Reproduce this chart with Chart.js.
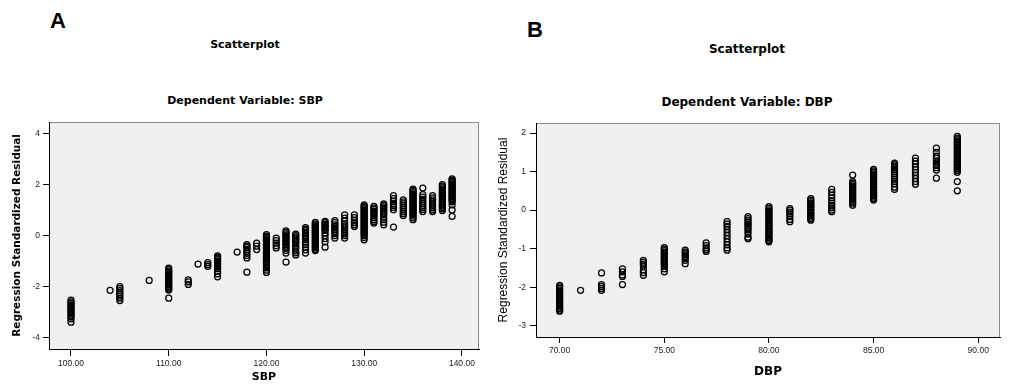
<!DOCTYPE html>
<html>
<head>
<meta charset="utf-8">
<script src="https://cdn.jsdelivr.net/npm/chart.js@4"></script>
<style>
  body { margin: 0; background: #fff; }
  #wrap { position: relative; width: 1010px; height: 390px; background: #fff; overflow: hidden; }
  .txt { position: absolute; transform: translate(-50%, -50%); white-space: nowrap; color: #000; }
  canvas { position: absolute; top: 0; }
</style>
</head>
<body>
<div id="wrap">
  <div class="txt" style="left:58px;top:21px;font:bold 22px 'Liberation Sans'">A</div>
  <div class="txt" style="left:245px;top:44px;font:bold 11px 'DejaVu Sans'">Scatterplot</div>
  <div class="txt" style="left:245px;top:100px;font:bold 11px 'DejaVu Sans'">Dependent Variable: SBP</div>
  <div class="txt" style="left:535px;top:30px;font:bold 22px 'Liberation Sans'">B</div>
  <div class="txt" style="left:747px;top:49px;font:bold 12px 'DejaVu Sans'">Scatterplot</div>
  <div class="txt" style="left:747px;top:102px;font:bold 12px 'DejaVu Sans'">Dependent Variable: DBP</div>
  <canvas id="chartA" width="490" height="390" style="left:0"></canvas>
  <canvas id="chartB" width="520" height="390" style="left:490px"></canvas>
</div>
<script>
// panel A: SBP vs standardized residual
const sbpValues = [100, 104, 105, 108, 110, 112, 113, 114, 115, 117, 118, 119, 120, 121, 122, 123, 124, 125, 126, 127, 128, 129, 130, 131, 132, 133, 134, 135, 136, 137, 138, 139];
const sbpResiduals = [
  [-2.53, -2.6, -2.66, -2.72, -2.78, -2.84, -2.9, -2.96, -3.02, -3.08, -3.14, -3.2, -3.27, -3.4],
  [-2.15],
  [-2.0, -2.08, -2.16, -2.24, -2.3, -2.38, -2.46, -2.55],
  [-1.76],
  [-1.28, -1.34, -1.4, -1.45, -1.5, -1.55, -1.6, -1.65, -1.7, -1.75, -1.8, -1.85, -1.9, -1.95, -2.0, -2.05, -2.1, -2.14, -2.46],
  [-1.74, -1.82, -1.92],
  [-1.12],
  [-1.06, -1.14, -1.21],
  [-0.8, -0.85, -0.9, -0.95, -1.0, -1.05, -1.1, -1.15, -1.22, -1.3, -1.4, -1.5, -1.62],
  [-0.65],
  [-0.36, -0.42, -0.48, -0.55, -0.62, -0.7, -0.78, -0.88, -1.44],
  [-0.3, -0.42, -0.55],
  [0.03, -0.02, -0.07, -0.12, -0.17, -0.22, -0.27, -0.32, -0.37, -0.42, -0.47, -0.52, -0.57, -0.62, -0.67, -0.72, -0.77, -0.82, -0.87, -0.92, -0.97, -1.02, -1.07, -1.12, -1.18, -1.27, -1.36, -1.45],
  [-0.1, -0.2, -0.3, -0.4, -0.49],
  [0.18, 0.12, 0.06, 0, -0.06, -0.12, -0.18, -0.24, -0.3, -0.36, -0.42, -0.5, -0.58, -0.69, -1.04],
  [0.05, 0, -0.06, -0.12, -0.18, -0.25, -0.33, -0.42, -0.5, -0.6, -0.68, -0.76],
  [0.31, 0.25, 0.19, 0.13, 0.07, 0, -0.08, -0.16, -0.26, -0.36, -0.46, -0.56, -0.69],
  [0.51, 0.46, 0.41, 0.36, 0.31, 0.26, 0.21, 0.16, 0.11, 0.06, 0.01, -0.04, -0.09, -0.14, -0.19, -0.24, -0.29, -0.34, -0.39, -0.44, -0.49, -0.54, -0.59],
  [0.55, 0.5, 0.45, 0.4, 0.35, 0.3, 0.25, 0.2, 0.1, 0, -0.12, -0.25, -0.46],
  [0.58, 0.5, 0.42, 0.36, 0.3, 0.24, 0.16, 0.08, 0, -0.1],
  [0.81, 0.68, 0.56, 0.46, 0.38, 0.3, 0.22, 0.14, 0.06, 0, -0.1],
  [0.81, 0.7, 0.6, 0.5, 0.42, 0.35],
  [1.2, 1.15, 1.1, 1.05, 1.0, 0.95, 0.9, 0.85, 0.8, 0.75, 0.7, 0.65, 0.6, 0.55, 0.5, 0.45, 0.4, 0.35, 0.3, 0.25, 0.2, 0.15, 0.1, 0.05, 0, -0.08, -0.17],
  [1.14, 1.08, 1.02, 0.96, 0.9, 0.84, 0.78, 0.7, 0.62, 0.55, 0.49],
  [1.24, 1.18, 1.12, 1.06, 1.0, 0.94, 0.88, 0.82, 0.72, 0.62, 0.52, 0.42],
  [1.56, 1.45, 1.35, 1.25, 1.18, 1.1, 1.01, 0.33],
  [1.4, 1.32, 1.25, 1.18, 1.1, 1.02, 0.94, 0.86, 0.78],
  [1.82, 1.77, 1.72, 1.67, 1.62, 1.57, 1.52, 1.47, 1.42, 1.37, 1.32, 1.27, 1.22, 1.17, 1.12, 1.07, 1.02, 0.97, 0.92, 0.87, 0.82, 0.76, 0.69, 0.62],
  [1.86, 1.6, 1.5, 1.42, 1.34, 1.26, 1.18, 1.1, 1.02, 0.94],
  [1.56, 1.48, 1.4, 1.32, 1.24, 1.16, 1.08, 1.0, 0.94],
  [1.99, 1.94, 1.88, 1.82, 1.76, 1.7, 1.64, 1.58, 1.52, 1.46, 1.4, 1.34, 1.28, 1.22, 1.16, 1.1, 1.04, 0.98],
  [2.22, 2.17, 2.12, 2.07, 2.02, 1.97, 1.92, 1.87, 1.82, 1.77, 1.72, 1.67, 1.62, 1.57, 1.52, 1.47, 1.42, 1.37, 1.32, 1.2, 1.0, 0.75]
];
const sbpTicks = [100, 110, 120, 130, 140];
const residTicksA = [-4, -2, 0, 2, 4];

// panel B: DBP vs standardized residual
const dbpValues = [70, 71, 72, 73, 74, 75, 76, 77, 78, 79, 80, 81, 82, 83, 84, 85, 86, 87, 88, 89];
const dbpResiduals = [
  [-1.95, -1.99, -2.03, -2.07, -2.11, -2.15, -2.19, -2.23, -2.27, -2.31, -2.35, -2.39, -2.43, -2.47, -2.51, -2.55, -2.59, -2.62],
  [-2.08],
  [-1.63, -1.93, -1.98, -2.03, -2.08],
  [-1.52, -1.6, -1.68, -1.72, -1.93],
  [-1.3, -1.35, -1.4, -1.45, -1.55, -1.62, -1.69],
  [-0.97, -1.01, -1.05, -1.09, -1.13, -1.17, -1.21, -1.25, -1.29, -1.33, -1.37, -1.41, -1.45, -1.52, -1.6],
  [-1.04, -1.08, -1.12, -1.16, -1.2, -1.25, -1.3, -1.39],
  [-0.85, -0.92, -0.98, -1.03, -1.07],
  [-0.3, -0.36, -0.42, -0.5, -0.58, -0.66, -0.74, -0.82, -0.9, -0.98, -1.04],
  [-0.17, -0.22, -0.27, -0.32, -0.36, -0.4, -0.45, -0.5, -0.56, -0.62, -0.7, -0.74],
  [0.09, 0.05, 0.01, -0.03, -0.07, -0.11, -0.15, -0.19, -0.23, -0.27, -0.31, -0.35, -0.39, -0.43, -0.47, -0.51, -0.55, -0.59, -0.63, -0.67, -0.71, -0.75, -0.79, -0.82],
  [0.04, 0, -0.05, -0.1, -0.17, -0.24, -0.3],
  [0.3, 0.26, 0.22, 0.18, 0.14, 0.1, 0.06, 0.02, -0.02, -0.06, -0.1, -0.14, -0.18, -0.22, -0.26],
  [0.54, 0.46, 0.38, 0.32, 0.25, 0.18, 0.12, 0.06, 0, -0.04],
  [0.91, 0.74, 0.7, 0.66, 0.62, 0.58, 0.54, 0.5, 0.46, 0.42, 0.38, 0.34, 0.3, 0.26, 0.22, 0.18, 0.13],
  [1.06, 1.02, 0.98, 0.94, 0.9, 0.86, 0.82, 0.78, 0.74, 0.7, 0.66, 0.62, 0.58, 0.54, 0.5, 0.46, 0.42, 0.38, 0.34, 0.3, 0.26],
  [1.22, 1.18, 1.14, 1.1, 1.05, 1.0, 0.95, 0.9, 0.85, 0.8, 0.74, 0.68, 0.6, 0.54],
  [1.35, 1.27, 1.2, 1.12, 1.05, 0.98, 0.9, 0.82, 0.74, 0.67],
  [1.61, 1.5, 1.4, 1.34, 1.28, 1.22, 1.16, 1.1, 1.04, 0.83],
  [1.91, 1.87, 1.83, 1.79, 1.75, 1.71, 1.67, 1.63, 1.59, 1.55, 1.51, 1.47, 1.43, 1.39, 1.35, 1.31, 1.27, 1.23, 1.19, 1.15, 1.11, 1.07, 1.03, 0.98, 0.74, 0.5]
];
const dbpTicks = [70, 75, 80, 85, 90];
const residTicksB = [-3, -2, -1, 0, 1, 2];

const toPoints = (xs, ys) => xs.flatMap((x, i) => ys[i].map(y => ({ x: x, y: y })));

// gray plot background plus gray top/right frame
const plotFrame = {
  id: 'plotFrame',
  beforeDraw(chart) {
    const { ctx, chartArea: a } = chart;
    ctx.save();
    ctx.fillStyle = '#f0f0f0';
    ctx.fillRect(a.left, a.top, a.right - a.left, a.bottom - a.top);
    ctx.strokeStyle = '#8a8a8a';
    ctx.lineWidth = 1;
    ctx.beginPath();
    ctx.moveTo(a.left, a.top + 0.5);
    ctx.lineTo(a.right - 0.5, a.top + 0.5);
    ctx.lineTo(a.right - 0.5, a.bottom);
    ctx.stroke();
    ctx.restore();
  }
};

function makeChart(id, o) {
  return new Chart(document.getElementById(id), {
    type: 'scatter',
    data: {
      datasets: [{
        data: o.points,
        pointStyle: 'circle',
        pointRadius: 3,
        pointHoverRadius: 3,
        borderWidth: 1.25,
        borderColor: '#000',
        backgroundColor: 'rgba(0,0,0,0)'
      }]
    },
    options: {
      responsive: false,
      animation: false,
      devicePixelRatio: 1,
      layout: { padding: o.padding },
      plugins: { legend: { display: false }, tooltip: { enabled: false } },
      scales: {
        x: {
          type: 'linear',
          min: o.xMin, max: o.xMax,
          afterBuildTicks: s => { s.ticks = o.xTicks.map(v => ({ value: v })); },
          afterFit: s => { s.height = o.xHeight; },
          border: { color: '#000', width: 1 },
          grid: { drawOnChartArea: false, drawTicks: true, tickLength: o.xTickLen, tickColor: '#000' },
          ticks: {
            autoSkip: false, maxRotation: 0, padding: 3, color: '#222',
            font: { family: 'Liberation Sans', size: 8.5 },
            callback: v => Number(v).toFixed(2)
          },
          title: {
            display: true, text: o.xTitle, color: '#000',
            font: o.xTitleFont, padding: { top: 0, bottom: o.xTitlePad }
          }
        },
        y: {
          type: 'linear',
          min: o.yMin, max: o.yMax,
          afterBuildTicks: s => { s.ticks = o.yTicks.map(v => ({ value: v })); },
          afterFit: s => { s.width = o.yWidth; },
          border: { color: '#000', width: 1 },
          grid: { drawOnChartArea: false, drawTicks: true, tickLength: 6, tickColor: '#000' },
          ticks: {
            autoSkip: false, padding: o.yTickPad, color: '#222',
            font: { family: 'Liberation Sans', size: 8.5 }
          },
          title: {
            display: true, text: 'Regression Standardized Residual', color: '#000',
            font: o.yTitleFont, padding: { top: o.yTitlePad, bottom: 0 }
          }
        }
      }
    },
    plugins: [plotFrame]
  });
}

makeChart('chartA', {
  points: toPoints(sbpValues, sbpResiduals),
  padding: { top: 122, right: 11, left: 0, bottom: 0 },
  xMin: 97.75, xMax: 141.75, xTicks: sbpTicks, xHeight: 41, xTickLen: 7,
  xTitle: 'SBP', xTitleFont: { family: 'DejaVu Sans', size: 11, weight: 'bold' }, xTitlePad: 6,
  yMin: -4.45, yMax: 4.45, yTicks: residTicksA, yWidth: 49, yTickPad: 3,
  yTitleFont: { family: 'DejaVu Sans', size: 10.5, weight: 'bold' }, yTitlePad: 11
});

makeChart('chartB', {
  points: toPoints(dbpValues, dbpResiduals),
  padding: { top: 123, right: 10, left: 0, bottom: 0 },
  xMin: 68.87, xMax: 91.04, xTicks: dbpTicks, xHeight: 53, xTickLen: 6,
  xTitle: 'DBP', xTitleFont: { family: 'DejaVu Sans', size: 12, weight: 'bold' }, xTitlePad: 11,
  yMin: -3.29, yMax: 2.26, yTicks: residTicksB, yWidth: 46, yTickPad: 4,
  yTitleFont: { family: 'Liberation Sans', size: 12 }, yTitlePad: 6
});
</script>
</body>
</html>
